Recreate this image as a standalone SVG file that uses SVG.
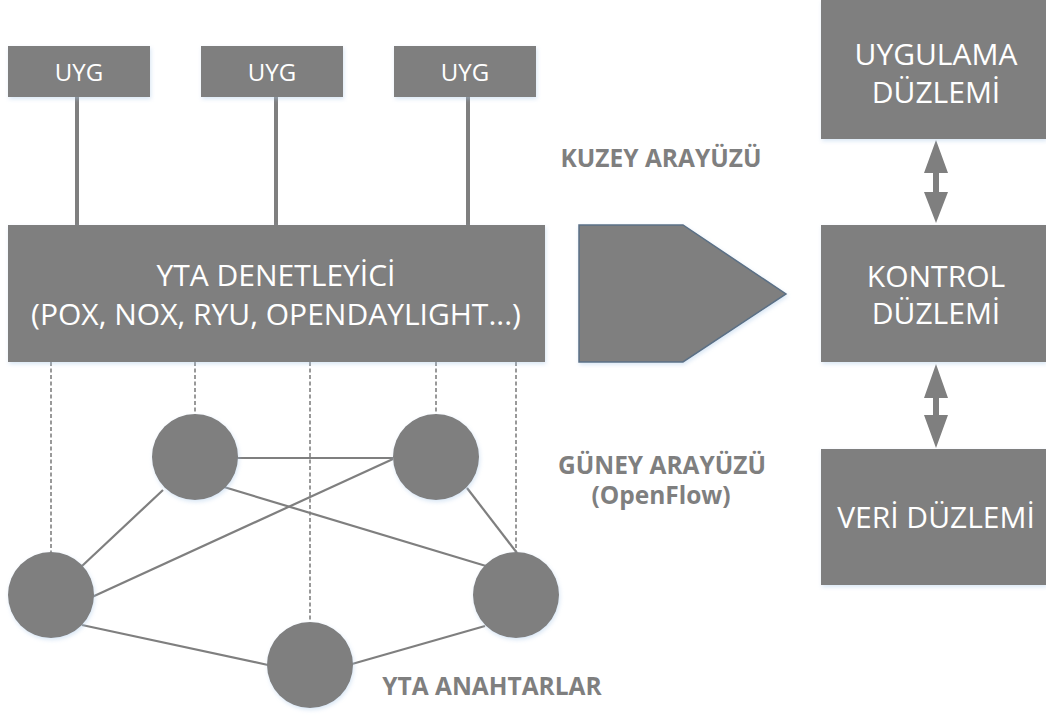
<svg xmlns="http://www.w3.org/2000/svg" width="1046" height="720" viewBox="0 0 1046 720">
  <style>
    .box { fill: #7f7f7f; filter: url(#glow); }
    .node { fill: #7f7f7f; filter: url(#glow); }
    .lbl { font-family: "Open Sans", "Liberation Sans", sans-serif; fill: #ffffff; text-anchor: middle; dominant-baseline: central; }
    .cap { font-family: "Open Sans", "Liberation Sans", sans-serif; font-weight: 700; fill: #7f7f7f; text-anchor: middle; dominant-baseline: central; font-size: 24.5px; }
    .stem { stroke: #7f7f7f; stroke-width: 4; fill: none; }
    .link { stroke: #7f7f7f; stroke-width: 2.2; fill: none; }
    .dash { stroke: #808080; stroke-width: 1.6; stroke-dasharray: 4 2.5; fill: none; }
    .dbl { fill: #7f7f7f; }
  </style>
  <defs>
    <filter id="glow" x="-10%" y="-10%" width="125%" height="125%">
      <feGaussianBlur in="SourceAlpha" stdDeviation="2"/>
      <feOffset dx="1" dy="2" result="b"/>
      <feFlood flood-color="#a9c8e8" flood-opacity="0.45"/>
      <feComposite in2="b" operator="in"/>
      <feMerge><feMergeNode/><feMergeNode in="SourceGraphic"/></feMerge>
    </filter>
  </defs>
  <rect width="1046" height="720" fill="#ffffff"/>

  <!-- connectors -->
  <g id="connectors">
    <!-- application boxes to controller -->
    <line class="stem" x1="77" y1="97" x2="77" y2="226"/>
    <line class="stem" x1="276" y1="97" x2="276" y2="226"/>
    <line class="stem" x1="468" y1="97" x2="468" y2="226"/>
    <!-- controller to switches -->
    <line class="dash" x1="51" y1="362" x2="51" y2="553"/>
    <line class="dash" x1="195" y1="362" x2="195" y2="415"/>
    <line class="dash" x1="310" y1="362" x2="310" y2="622"/>
    <line class="dash" x1="436" y1="362" x2="436" y2="415"/>
    <line class="dash" x1="516" y1="362" x2="516" y2="553"/>
    <!-- switch mesh -->
    <line class="link" x1="237" y1="458" x2="393" y2="458"/>
    <line class="link" x1="393" y1="459" x2="92" y2="597"/>
    <line class="link" x1="224" y1="487" x2="486" y2="566"/>
    <line class="link" x1="163" y1="490" x2="82" y2="566"/>
    <line class="link" x1="467" y1="488" x2="517" y2="553"/>
    <line class="link" x1="82" y1="625" x2="268" y2="665"/>
    <line class="link" x1="352" y1="664" x2="485" y2="626"/>
    <!-- plane arrows -->
    <path class="dbl" d="M936 140 L948 173 L939 173 L939 192 L948 192 L936 223 L924 192 L933 192 L933 173 L924 173 Z"/>
    <path class="dbl" d="M936 364 L948 398 L939 398 L939 415 L948 415 L936 448 L924 415 L933 415 L933 398 L924 398 Z"/>
  </g>

  <g id="app1"><rect class="box" x="8" y="46" width="142" height="51"/><text class="lbl" x="79" y="71" font-size="24">UYG</text></g>
  <g id="app2"><rect class="box" x="201" y="46" width="142" height="51"/><text class="lbl" x="272" y="71" font-size="24">UYG</text></g>
  <g id="app3"><rect class="box" x="394" y="46" width="142" height="51"/><text class="lbl" x="465" y="71" font-size="24">UYG</text></g>

  <g id="controller">
    <rect class="box" x="8" y="225" width="537" height="137"/>
    <text class="lbl" x="276" y="274" font-size="30">YTA DENETLEYİCİ</text>
    <text class="lbl" x="276" y="313" font-size="30">(POX, NOX, RYU, OPENDAYLIGHT...)</text>
  </g>

  <g id="interface-arrow">
    <polygon points="579,225 683,225 786,294 683,362 579,362" fill="#7f7f7f" stroke="#5b7086" stroke-width="1.5" filter="url(#glow)"/>
  </g>

  <g id="sw-tl"><circle class="node" cx="195" cy="457" r="43"/></g>
  <g id="sw-tr"><circle class="node" cx="436" cy="457" r="43"/></g>
  <g id="sw-l"><circle class="node" cx="51" cy="595" r="43"/></g>
  <g id="sw-r"><circle class="node" cx="516" cy="595" r="43"/></g>
  <g id="sw-b"><circle class="node" cx="310" cy="665" r="43"/></g>

  <g id="app-plane">
    <rect class="box" x="821" y="0" width="225" height="139"/>
    <text class="lbl" x="936" y="53" font-size="30">UYGULAMA</text>
    <text class="lbl" x="936" y="91" font-size="30">DÜZLEMİ</text>
  </g>
  <g id="control-plane">
    <rect class="box" x="821" y="225" width="225" height="137"/>
    <text class="lbl" x="936" y="275" font-size="30">KONTROL</text>
    <text class="lbl" x="936" y="312" font-size="30">DÜZLEMİ</text>
  </g>
  <g id="data-plane">
    <rect class="box" x="821" y="449" width="225" height="136"/>
    <text class="lbl" x="936" y="516" font-size="30">VERİ DÜZLEMİ</text>
  </g>

  <g id="labels">
    <text class="cap" x="661" y="157">KUZEY ARAYÜZÜ</text>
    <text class="cap" x="662" y="464">GÜNEY ARAYÜZÜ</text>
    <text class="cap" x="661" y="494">(OpenFlow)</text>
    <text class="cap" x="492" y="685">YTA ANAHTARLAR</text>
  </g>
</svg>
